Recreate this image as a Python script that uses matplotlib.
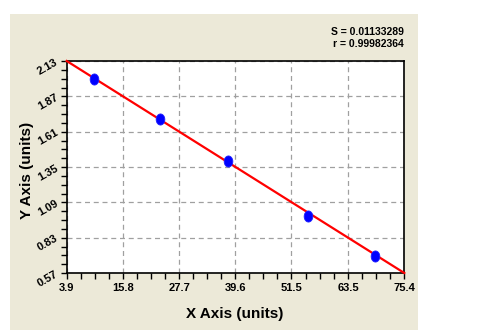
import numpy as np
import matplotlib
matplotlib.use("Agg")
import matplotlib.pyplot as plt
from matplotlib.patches import Rectangle
from matplotlib.ticker import FixedLocator
from matplotlib.path import Path

x_vals = [9.6, 23.7, 38.1, 55.0, 69.3]
y_vals = [1.998, 1.705, 1.394, 0.992, 0.695]
x_ticks = [3.9, 15.8, 27.7, 39.6, 51.5, 63.5, 75.4]
y_ticks = [0.57, 0.83, 1.09, 1.35, 1.61, 1.87, 2.13]
fit_x = [3.9, 75.4]
fit_y = [2.13, 0.57]
stats = ["S = 0.01133289", "r = 0.99982364"]

plt.rcParams['font.family'] = ['Liberation Sans', 'DejaVu Sans']
fig = plt.figure(figsize=(5.04, 3.30), dpi=100)
fig.patch.set_facecolor('white')
fig.add_artist(Rectangle((10/504, 0), (418-10)/504, 1-14/330, transform=fig.transFigure,
                         facecolor='#ECE9D8', edgecolor='none', zorder=0))

ax = fig.add_axes([66.7/504, 1-273/330, (404.3-66.7)/504, (273-61)/330])
ax.set_facecolor('white')
ax.set_xlim(x_ticks[0], x_ticks[-1])
ax.set_ylim(y_ticks[0], y_ticks[-1])
ax.xaxis.set_major_locator(FixedLocator(x_ticks))
ax.yaxis.set_major_locator(FixedLocator(y_ticks))
xminor = []
for a, b in zip(x_ticks[:-1], x_ticks[1:]):
    xminor += [a + (b - a) * k / 4 for k in (1, 2, 3)]
yminor = []
for a, b in zip(y_ticks[:-1], y_ticks[1:]):
    yminor += [a + (b - a) * k / 4 for k in (1, 2, 3)]
ax.xaxis.set_minor_locator(FixedLocator(xminor))
ax.yaxis.set_minor_locator(FixedLocator(yminor))
ax.set_xticklabels([f"{v}" for v in x_ticks], fontsize=8, fontweight='bold')
ax.set_yticklabels([f"{v:.2f}" for v in y_ticks], fontsize=8, fontweight='bold', rotation=30)
ax.tick_params(axis='both', which='major', length=4, width=1, direction='out', color='black')
ax.tick_params(axis='both', which='minor', length=4, width=1, direction='out', color='black')
ax.tick_params(axis='x', pad=3)
ax.tick_params(axis='y', pad=1)
for s in ax.spines.values():
    s.set_linewidth(1.2)
ax.grid(True, which='major', linestyle=(0, (4, 3)), color='#a0a0a0', linewidth=0.9)

ax.plot(fit_x, fit_y, color='#ff0000', linewidth=1.6, zorder=3, clip_on=False)

theta = np.linspace(0, 2 * np.pi, 40)
ellipse = Path(np.column_stack([0.78 * np.cos(theta), np.sin(theta)]), closed=True)
ax.plot(x_vals, y_vals, linestyle='none', marker=ellipse, markersize=8,
        markerfacecolor='#0000ff', markeredgecolor='#2020ff', markeredgewidth=0.6, zorder=4)

ax.set_xlabel("X Axis (units)", fontsize=11, fontweight='bold', va='center')
ax.set_ylabel("Y Axis (units)", fontsize=11, fontweight='bold', va='center')
ax.xaxis.set_label_coords(0.5 - (0.5*337.6 - (235-66.7)) / 337.6, (273 - 314) / 212)
ax.yaxis.set_label_coords((27 - 66.7) / 337.6, 0.5 - (170 - 167) / 212)

fig.text(404/504, 1-32/330, stats[0], ha='right', va='center', fontsize=7.5, fontweight='bold')
fig.text(404/504, 1-44/330, stats[1], ha='right', va='center', fontsize=7.5, fontweight='bold')

fig.savefig("out.png", dpi=100)
